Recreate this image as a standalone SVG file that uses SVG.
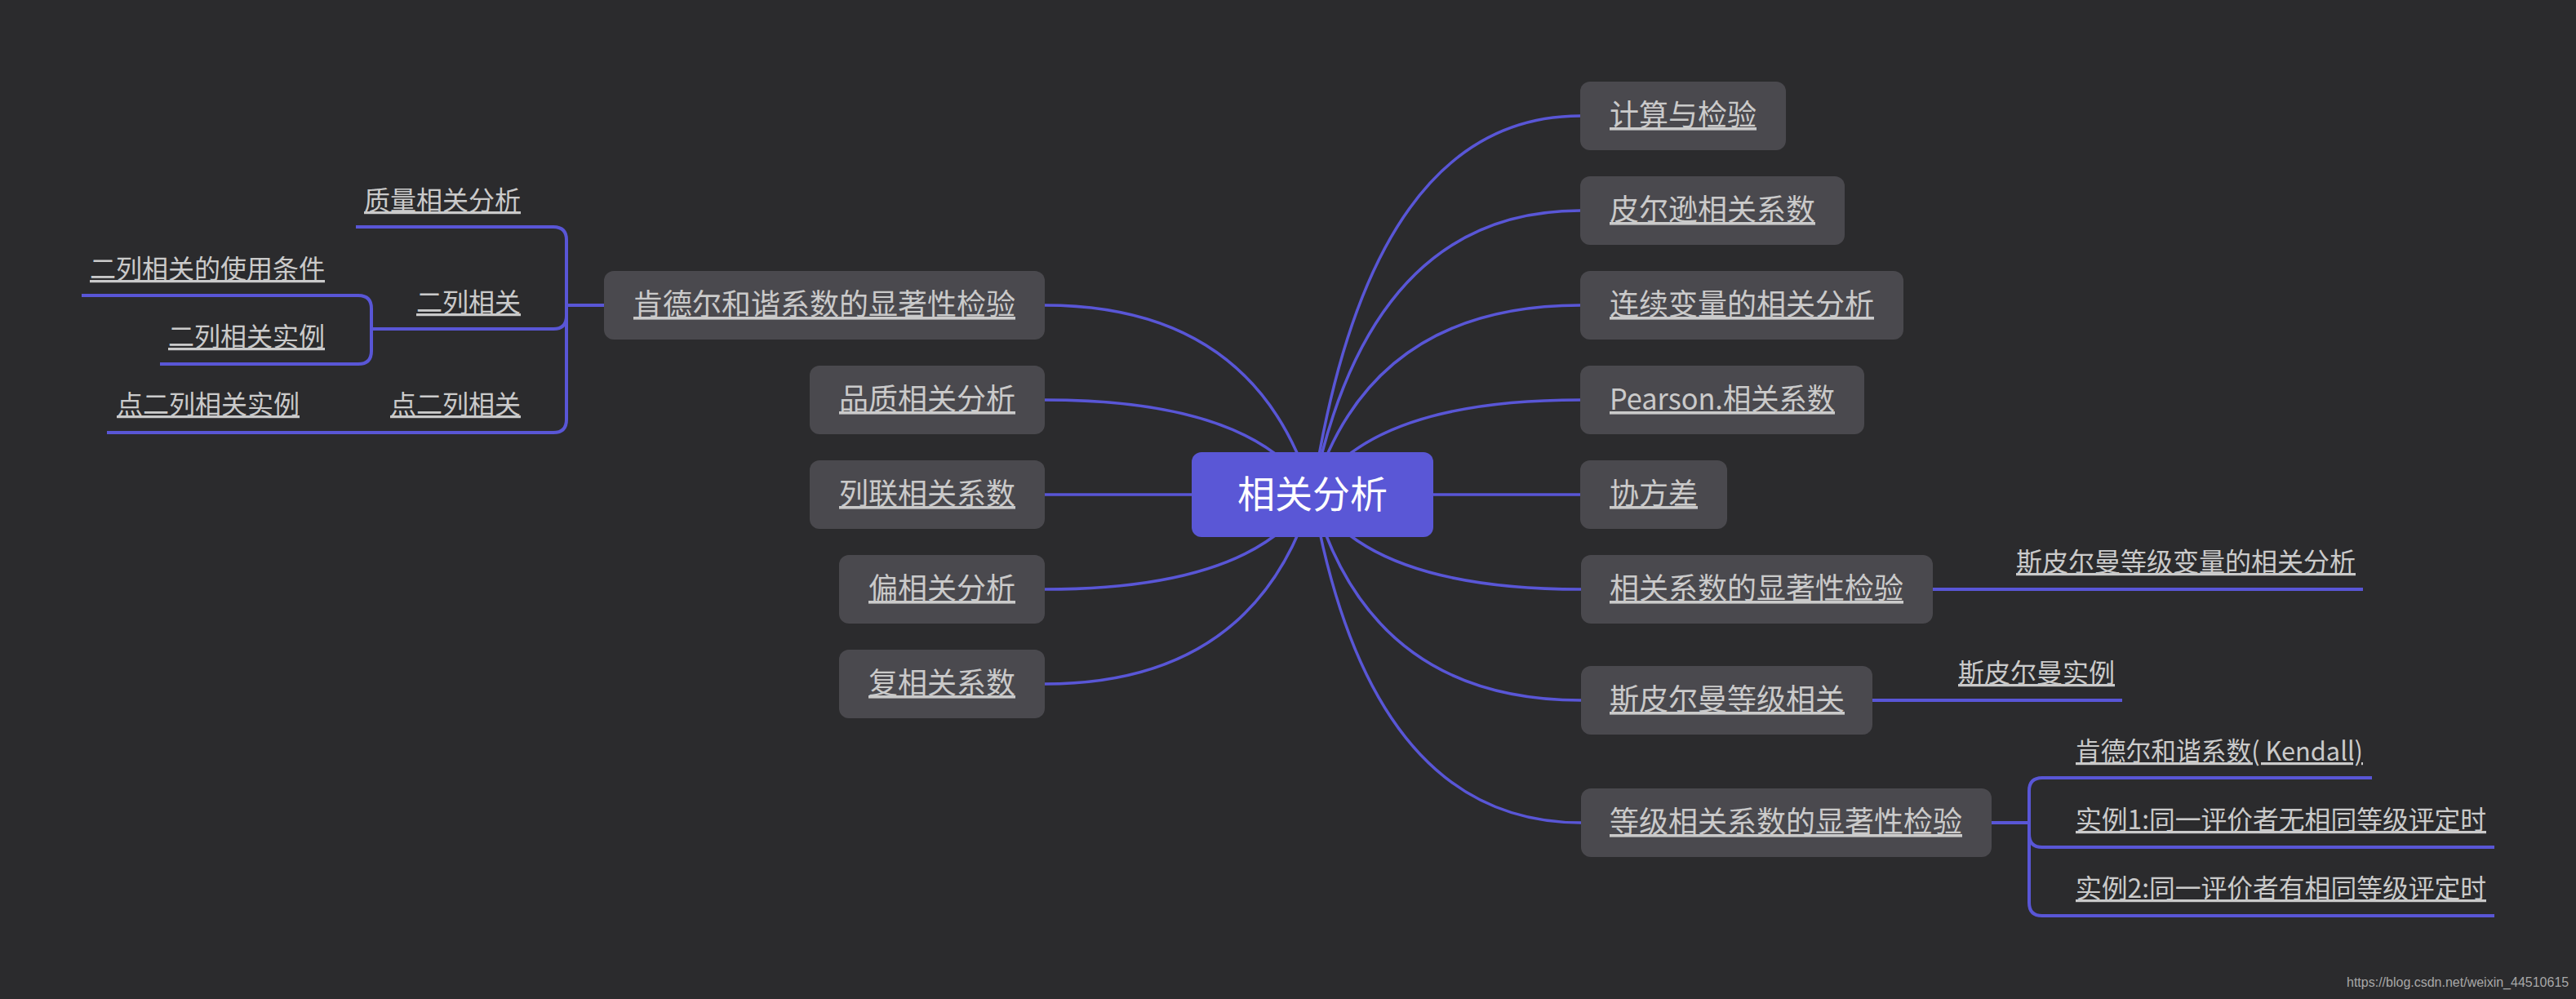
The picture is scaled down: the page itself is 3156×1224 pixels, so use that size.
<svg xmlns="http://www.w3.org/2000/svg" width="3156" height="1224" viewBox="0 0 3156 1224">
<style>
.t{font-family:"Noto Sans CJK SC","Noto Sans",sans-serif;fill:#cacaca;text-decoration:underline}
.n{font-size:36px}
.s{font-size:32px}
.box{fill:#4a494e}
.c{fill:none;stroke:#5956d6;stroke-width:3.5}
.b{fill:none;stroke:#5956d6;stroke-width:4}
</style>
<rect width="3156" height="1224" fill="#2b2b2d"/>
<g id="connectors">
<path class="c" d="M1608,606 Q1678,142 1936,142"/>
<path class="c" d="M1608,606 Q1678,258 1936,258"/>
<path class="c" d="M1608,606 Q1678,374 1936,374"/>
<path class="c" d="M1608,606 Q1678,490 1936,490"/>
<path class="c" d="M1756,606 H1936"/>
<path class="c" d="M1608,606 Q1678,722 1937,722"/>
<path class="c" d="M1608,606 Q1678,858 1937,858"/>
<path class="c" d="M1608,606 Q1678,1008 1937,1008"/>
<path class="c" d="M1608,606 Q1538,374 1280,374"/>
<path class="c" d="M1608,606 Q1538,490 1280,490"/>
<path class="c" d="M1460,606 H1280"/>
<path class="c" d="M1608,606 Q1538,722 1280,722"/>
<path class="c" d="M1608,606 Q1538,838 1280,838"/>
<path class="b" d="M2368,722 H2895"/>
<path class="b" d="M2294,858 H2600"/>
<path class="b" d="M2440,1008 H2486"/>
<path class="b" d="M2486,1008 V969 Q2486,953 2502,953 H2906"/>
<path class="b" d="M2486,1008 V1022 Q2486,1038 2502,1038 H3056"/>
<path class="b" d="M2486,1008 V1106 Q2486,1122 2502,1122 H3056"/>
<path class="b" d="M740,374 H694"/>
<path class="b" d="M694,374 V294 Q694,278 678,278 H436"/>
<path class="b" d="M694,374 V387 Q694,403 678,403 H455"/>
<path class="b" d="M694,374 V514 Q694,530 678,530 H131"/>
<path class="b" d="M455,403 V378 Q455,362 439,362 H100"/>
<path class="b" d="M455,403 V430 Q455,446 439,446 H196"/>
</g>
<g id="root">
<rect x="1460" y="554" width="296" height="104" rx="12" fill="#5a57d6"/>
<text x="1608" y="622" font-family="'Noto Sans CJK SC',sans-serif" font-size="46" fill="#ffffff" text-anchor="middle">相关分析</text>
</g>
<g id="r1"><rect class="box" x="1936" y="100" width="252" height="84" rx="12"/><text class="t n" x="1972" y="154">计算与检验</text></g>
<g id="r2"><rect class="box" x="1936" y="216" width="324" height="84" rx="12"/><text class="t n" x="1972" y="270">皮尔逊相关系数</text></g>
<g id="r3"><rect class="box" x="1936" y="332" width="396" height="84" rx="12"/><text class="t n" x="1972" y="386">连续变量的相关分析</text></g>
<g id="r4"><rect class="box" x="1936" y="448" width="348" height="84" rx="12"/><text class="t n" x="1972" y="502" textLength="276" lengthAdjust="spacingAndGlyphs">Pearson.相关系数</text></g>
<g id="r5"><rect class="box" x="1936" y="564" width="180" height="84" rx="12"/><text class="t n" x="1972" y="618">协方差</text></g>
<g id="r6"><rect class="box" x="1937" y="680" width="431" height="84" rx="12"/><text class="t n" x="1972" y="734">相关系数的显著性检验</text></g>
<g id="r7"><rect class="box" x="1937" y="816" width="357" height="84" rx="12"/><text class="t n" x="1972" y="870">斯皮尔曼等级相关</text></g>
<g id="r8"><rect class="box" x="1937" y="966" width="503" height="84" rx="12"/><text class="t n" x="1972" y="1020">等级相关系数的显著性检验</text></g>
<g id="r6a"><text class="t s" x="2470" y="700">斯皮尔曼等级变量的相关分析</text></g>
<g id="r7a"><text class="t s" x="2399" y="836">斯皮尔曼实例</text></g>
<g id="r8a"><text class="t s" x="2543" y="932" textLength="352" lengthAdjust="spacingAndGlyphs">肯德尔和谐系数( Kendall)</text></g>
<g id="r8b"><text class="t s" x="2543" y="1016" textLength="503" lengthAdjust="spacingAndGlyphs">实例1:同一评价者无相同等级评定时</text></g>
<g id="r8c"><text class="t s" x="2543" y="1100" textLength="503" lengthAdjust="spacingAndGlyphs">实例2:同一评价者有相同等级评定时</text></g>
<g id="l1"><rect class="box" x="740" y="332" width="540" height="84" rx="12"/><text class="t n" x="776" y="386">肯德尔和谐系数的显著性检验</text></g>
<g id="l2"><rect class="box" x="992" y="448" width="288" height="84" rx="12"/><text class="t n" x="1028" y="502">品质相关分析</text></g>
<g id="l3"><rect class="box" x="992" y="564" width="288" height="84" rx="12"/><text class="t n" x="1028" y="618">列联相关系数</text></g>
<g id="l4"><rect class="box" x="1028" y="680" width="252" height="84" rx="12"/><text class="t n" x="1064" y="734">偏相关分析</text></g>
<g id="l5"><rect class="box" x="1028" y="796" width="252" height="84" rx="12"/><text class="t n" x="1064" y="850">复相关系数</text></g>
<g id="l1a"><text class="t s" x="446" y="257">质量相关分析</text></g>
<g id="l1b"><text class="t s" x="510" y="382">二列相关</text></g>
<g id="l1b1"><text class="t s" x="110" y="341">二列相关的使用条件</text></g>
<g id="l1b2"><text class="t s" x="206" y="424">二列相关实例</text></g>
<g id="l1c"><text class="t s" x="478" y="507">点二列相关</text></g>
<g id="l1c1"><text class="t s" x="143" y="507">点二列相关实例</text></g>
<text x="2875" y="1209" font-family="'Liberation Sans',Arial,sans-serif" font-size="16" fill="#a8a8a8">https://blog.csdn.net/weixin_44510615</text>
</svg>
